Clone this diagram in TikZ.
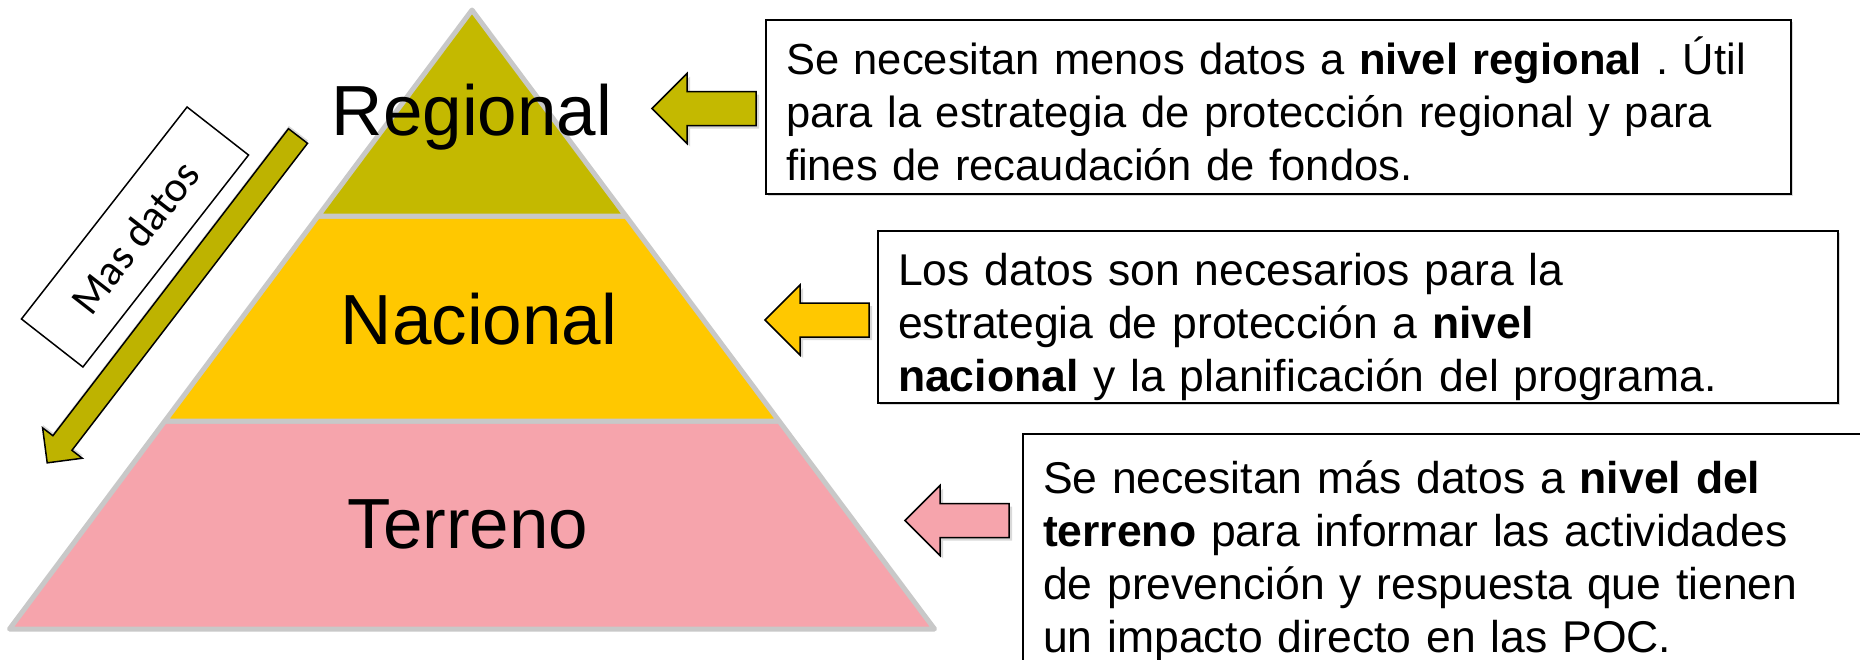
\documentclass[tikz,border=0pt]{standalone}
\usepackage{fontspec}
\setmainfont{Liberation Sans}
\newfontfamily\calibrifont{Carlito}
\usetikzlibrary{shadows}
\frenchspacing

\definecolor{regcol}{RGB}{196,185,0}
\definecolor{naccol}{RGB}{255,200,0}
\definecolor{tercol}{RGB}{246,164,172}
\definecolor{pyrline}{RGB}{200,200,200}
\definecolor{downcol}{RGB}{190,179,0}

\tikzset{
  pyrband/.style={draw=pyrline, line width=5pt, line join=round},
  levellabel/.style={anchor=base, inner sep=0pt, font=\fontsize{71}{85}\selectfont},
  infobox/.style={draw, line width=2pt, fill=white, anchor=north west, align=left,
    inner xsep=20pt, inner ysep=0pt, font=\fontsize{44.5}{53}\selectfont,
    drop shadow={shadow xshift=2pt, shadow yshift=-2pt, opacity=.3}},
  blockarr/.style={draw, line width=1.5pt, line join=miter,
    drop shadow={shadow xshift=3pt, shadow yshift=-3pt, opacity=.3}},
}

\begin{document}
\begin{tikzpicture}[x=1pt,y=-1pt]
  \useasboundingbox (0,0) rectangle (1860,659);
  \clip (0,0) rectangle (1860,659);

  % pyramid
  \draw[pyrband, fill=tercol] (164.9,421) -- (779.1,421) -- (934.5,629) -- (9.5,629) -- cycle;
  \draw[pyrband, fill=naccol] (318.1,216) -- (625.9,216) -- (779.1,421) -- (164.9,421) -- cycle;
  \draw[pyrband, fill=regcol] (472,10) -- (625.9,216) -- (318.1,216) -- cycle;

  \node[levellabel] (regional) at (472,135) {Regional};
  \node[levellabel] (nacional) at (479,344) {Nacional};
  \node[levellabel] (terreno) at (468,548) {Terreno};

  % left pointing arrows
  \foreach \tx/\ty/\col in {652/108.5/regcol, 765/320/naccol, 905/520.5/tercol}
    \draw[blockarr, fill=\col, shift={(\tx,\ty)}]
      (0,0) -- (35,-35) -- (35,-17) -- (104,-17) -- (104,17) -- (35,17) -- (35,35) -- cycle;

  % text boxes
  \node[infobox, font=\fontsize{43.5}{53}\selectfont, text width=985pt, text height=54pt, text depth=120pt] (boxreg) at (765,19)
    {Se necesitan menos datos a \textbf{nivel regional} . Útil\\
     para la estrategia de protección regional y para\\
     fines de recaudación de fondos.};
  \node[infobox, text width=920pt, text height=54pt, text depth=118pt] (boxnac) at (877,230)
    {Los datos son necesarios para la\\
     estrategia de protección a \textbf{nivel}\\
     \textbf{nacional} y la planificación del programa.};
  \node[infobox, text width=840pt, text height=59pt, text depth=230pt] (boxter) at (1022,433)
    {Se necesitan más datos a \textbf{nivel del}\\
     \textbf{terreno} para informar las actividades\\
     de prevención y respuesta que tienen\\
     un impacto directo en las POC.};

  % mas datos
  \node[draw, line width=1.5pt, rotate=52, minimum width=269pt, minimum height=78pt,
    font=\calibrifont\fontsize{43}{52}\selectfont] (masdatos) at (135,237) {Mas datos};

  \begin{scope}[shift={(298,136)}, rotate=232.5]
    \draw[draw, fill=downcol, line width=1.5pt,
      drop shadow={shadow xshift=0.4pt, shadow yshift=2.8pt, opacity=.3}]
      (0,-12) -- (387,-12) -- (387,-25) -- (412,0) -- (387,25) -- (387,12) -- (0,12) -- cycle;
  \end{scope}
\end{tikzpicture}
\end{document}
